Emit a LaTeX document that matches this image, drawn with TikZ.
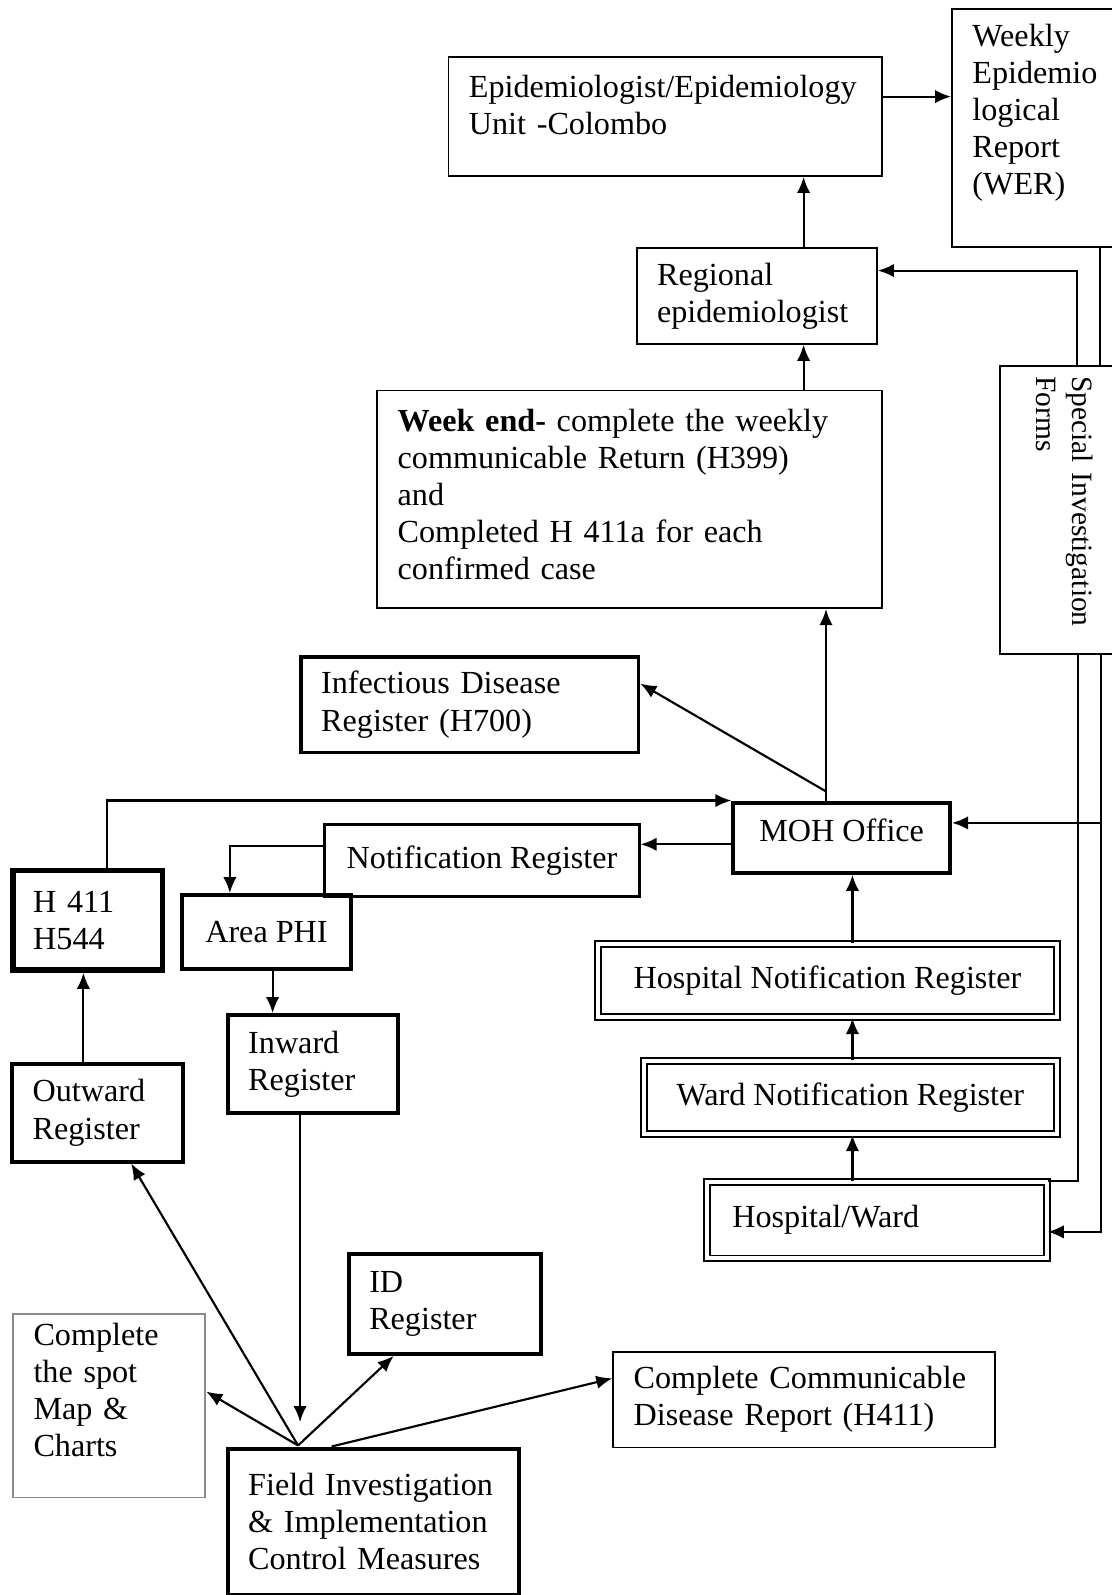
\documentclass[tikz,border=0pt]{standalone}
\usepackage{fontspec}
\setmainfont{Liberation Serif}
\usetikzlibrary{arrows.meta}
\hyphenpenalty=10000
\begin{document}
\begin{tikzpicture}
  [
    x=3.795pt, y=-3.795pt,
    every node/.style={font=\fontsize{12pt}{13.85pt}\selectfont},
    thinbox/.style={draw,line width=0.7pt,align=left,anchor=north west,inner xsep=7.6pt},
    thickbox/.style={thinbox,line width=1.5pt},
    dblbox/.style={thinbox,double,double distance=1.4pt,line width=0.7pt},
    link/.style={line width=0.8pt},
    flow/.style={link,->,>={Latex[length=6pt,width=5pt]}}
  ]
  \useasboundingbox (0,0) rectangle (109.3,156.8);
  \clip (0,0) rectangle (109.3,156.8);
  % top
  \node[thinbox,text width=146.5pt,minimum height=44.4pt] (epi) at (44,5.5) {Epidemiologist/Epidemiology\\Unit -Colombo\\[-5pt]\mbox{}};
  \node[thinbox,text width=49.3pt,minimum height=88.8pt] (wer) at (93.5,0.8) {Weekly\\Epidemio\\logical\\Report\\(WER)\\\mbox{}};
  \node[thinbox,text width=74.4pt,minimum height=35.7pt] (regional) at (62.5,24.3) {Regional\\epidemiologist};
  \node[thinbox,text width=173.1pt,minimum height=81.2pt] (weekend) at (37,38.3) {\textbf{Week end-} complete the weekly\\communicable Return (H399)\\and\\Completed H 411a for each\\confirmed case\\[-10pt]\mbox{}};
  \node[thinbox,anchor=center,rotate=-90,inner xsep=3.7pt,text width=100pt,minimum height=48.2pt,
    font=\fontsize{11pt}{13.2pt}\selectfont] (special) at (104.65,50.15) {Special Investigation\\Forms};
  % middle
  \node[thickbox,line width=1.3pt,text width=110.8pt,minimum height=35.7pt] (infect) at (29.4,64.4) {Infectious Disease\\Register (H700)};
  \node[thickbox,align=center,minimum width=80.8pt,minimum height=26.2pt] (moh) at (71.9,78.7) {MOH Office\\[-8pt]\mbox{}};
  \node[thickbox,line width=1pt,minimum width=117.3pt,minimum height=26.9pt] (notif) at (31.8,80.9) {Notification Register};
  \node[thickbox,line width=2pt,text width=40.6pt,minimum height=37.2pt] (h411) at (1,85.3) {H 411\\H544};
  \node[thickbox,minimum width=63pt,minimum height=27.7pt] (areaphi) at (17.7,87.8) {Area PHI};
  \node[thickbox,text width=48.2pt,minimum height=36.4pt] (inward) at (22.2,99.6) {Inward\\Register};
  \node[thickbox,text width=48.6pt,minimum height=36.4pt] (outward) at (1,104.4) {Outward\\Register};
  \node[dblbox,minimum width=171.2pt,minimum height=27.3pt] (hospnotif) at (58.7,92.7) {Hospital Notification Register};
  \node[dblbox,minimum width=154.1pt,minimum height=27.3pt] (ward) at (63.2,104.2) {Ward Notification Register};
  \node[dblbox,inner xsep=9.5pt,text width=107.8pt,minimum height=28.5pt] (hospward) at (69.4,116.1) {Hospital/Ward};
  % bottom
  \node[thickbox,text width=56.5pt,minimum height=37.2pt] (idreg) at (34.1,123.1) {ID\\Register};
  \node[thinbox,draw=black!45,text width=56.5pt,minimum height=67.6pt] (spot) at (1.2,129.1) {Complete\\the spot\\Map \&\\Charts\\[-2pt]\mbox{}};
  \node[thinbox,text width=127.1pt,minimum height=35.7pt] (ccd) at (60.2,132.8) {Complete Communicable\\Disease Report (H411)};
  \node[thickbox,text width=93.4pt,minimum height=54.6pt] (field) at (22.2,142.2) {Field Investigation\\\& Implementation\\Control Measures};
  % upward chain
  \draw[flow] (79,0 |- regional.north) -- (79,0 |- epi.south);
  \draw[flow] (epi.east |- 0,9.5) -- (wer.west |- 0,9.5);
  \draw[flow] (79,0 |- weekend.north) -- (79,0 |- regional.south);
  \draw[flow] (81.2,0 |- moh.north) -- (81.2,0 |- weekend.south);
  \coordinate (fork) at (81.2,77.8);
  \draw[flow] (fork) -- (infect.east |- 0,67.2);
  \draw[flow] (10.5,0 |- h411.north) |- (moh.north west);
  \draw[flow] (moh.west |- 0,83) -- (notif.east |- 0,83);
  \draw[flow] (notif.west |- 0,83.2) -| (22.6,0 |- areaphi.north);
  \draw[flow] (26.8,0 |- areaphi.south) -- (26.8,0 |- inward.north);
  \draw[flow] (8.2,0 |- outward.north) -- (8.2,0 |- h411.south);
  \draw[flow] (83.8,0 |- hospward.north) -- (83.8,0 |- ward.south);
  \draw[flow] (83.8,0 |- ward.north) -- (83.8,0 |- hospnotif.south);
  \draw[flow] (83.8,0 |- hospnotif.north) -- (83.8,0 |- moh.south);
  % right side
  \draw[flow] (105.9,0 |- special.west) |- (regional.east |- 0,26.6);
  \draw[link] (108.1,0 |- special.west) -- (108.1,0 |- wer.south);
  \draw[link] (106,0 |- special.east) |- (hospward.north east);
  \coordinate (mohin) at (108.2,80.9);
  \draw[flow] (108.2,0 |- special.east) |- (hospward.east |- 0,121.1);
  \draw[flow] (mohin) -- (moh.east |- mohin);
  % field
  \coordinate (hub) at (29.3,142.1);
  \coordinate (inend) at (29.5,139.8);
  \draw[flow] (29.5,0 |- inward.south) -- (inend);
  \draw[flow] (hub) -- (12.9,0 |- outward.south);
  \draw[flow] (hub) -- (spot.east |- 0,136.8);
  \draw[flow] (hub) -- (38.7,0 |- idreg.south);
  \draw[flow] (32.6,0 |- field.north) -- (ccd.west |- 0,135.5);
\end{tikzpicture}
\end{document}
